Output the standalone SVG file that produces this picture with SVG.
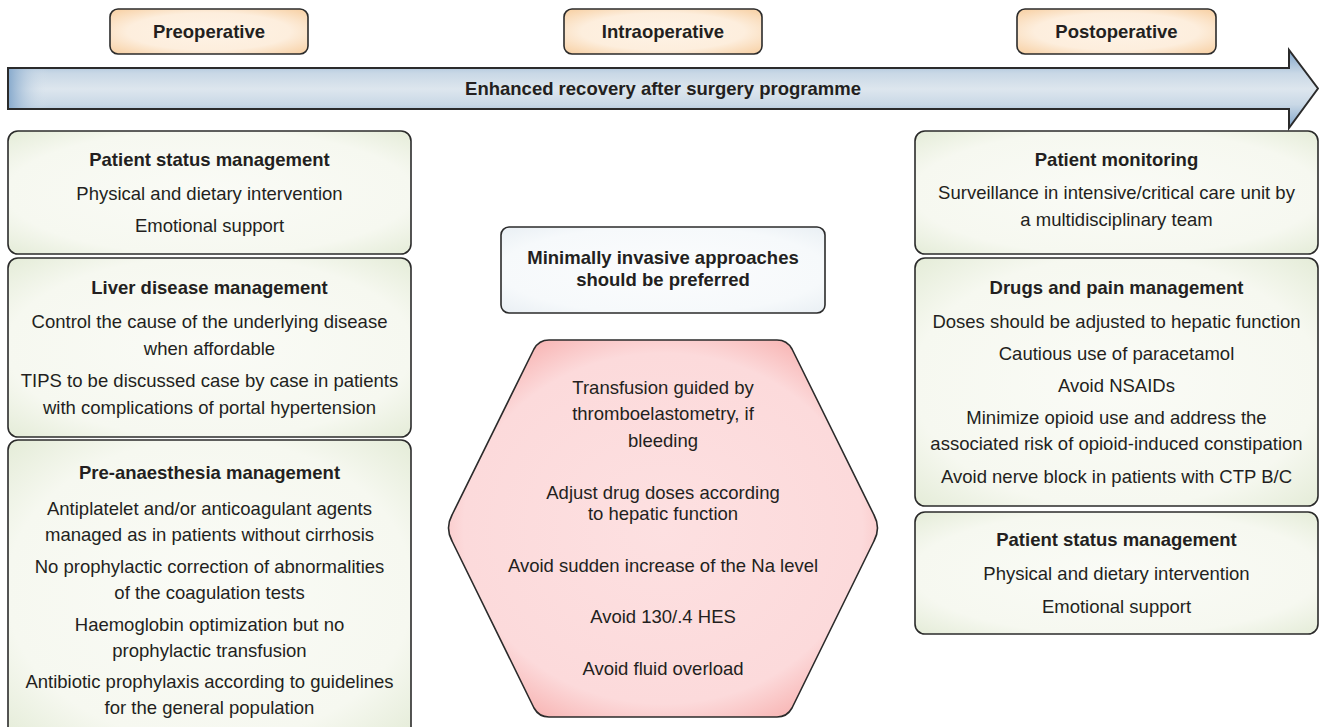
<svg xmlns="http://www.w3.org/2000/svg" width="1319" height="727" viewBox="0 0 1319 727">
<defs>
<radialGradient id="gPeach" cx="0.5" cy="0.5" r="0.75">
<stop offset="0" stop-color="#fef3e6"/><stop offset="0.55" stop-color="#fdeedd"/><stop offset="1" stop-color="#f6c996"/>
</radialGradient>
<linearGradient id="gBlue" x1="0" y1="0" x2="0" y2="1">
<stop offset="0" stop-color="#7fa4c9"/><stop offset="0.3" stop-color="#c9d8e6"/><stop offset="0.5" stop-color="#dde6ee"/><stop offset="0.7" stop-color="#c9d8e6"/><stop offset="1" stop-color="#7fa4c9"/>
</linearGradient>
<linearGradient id="gBlueLeft" x1="0" y1="0" x2="1" y2="0">
<stop offset="0" stop-color="#86a9cc" stop-opacity="1"/><stop offset="1" stop-color="#dde6ee" stop-opacity="0"/>
</linearGradient>
<radialGradient id="gGreen" cx="0.5" cy="0.5" r="0.72">
<stop offset="0" stop-color="#fafbf6"/><stop offset="0.7" stop-color="#f6f8f0"/><stop offset="1" stop-color="#e3ebd6"/>
</radialGradient>
<radialGradient id="gWhite" cx="0.5" cy="0.5" r="0.72">
<stop offset="0" stop-color="#fbfcfd"/><stop offset="0.7" stop-color="#f6f9fb"/><stop offset="1" stop-color="#e8eef3"/>
</radialGradient>
<radialGradient id="gPink" cx="0.5" cy="0.5" r="0.62">
<stop offset="0" stop-color="#fde0e1"/><stop offset="0.75" stop-color="#fcdadb"/><stop offset="1" stop-color="#f6a8a6"/>
</radialGradient>
<style>
.b{stroke:#2b2b2b;stroke-width:1.6}
text{font-family:"Liberation Sans",Arial,sans-serif;font-size:18.5px;fill:#231f20;text-anchor:middle}
.h{font-weight:bold}
</style>
</defs>

<g id="arrow">
<path d="M8,68 H1289 V50 L1318,88.5 L1289,128 V109 H8 Z" fill="url(#gBlue)"/>
<rect x="8" y="68" width="40" height="41" fill="url(#gBlueLeft)"/>
<path d="M8,68 H1289 V50 L1318,88.5 L1289,128 V109 H8 Z" fill="none" stroke="#2b2b2b" stroke-width="2"/>
<text class="h" x="663" y="94.5">Enhanced recovery after surgery programme</text>
</g>

<g id="preoperative">
<rect class="b" x="110" y="9" width="198" height="45" rx="8" fill="url(#gPeach)"/>
<text class="h" x="209" y="37.5">Preoperative</text>
</g>
<g id="intraoperative">
<rect class="b" x="564" y="9" width="198" height="45" rx="8" fill="url(#gPeach)"/>
<text class="h" x="663" y="37.5">Intraoperative</text>
</g>
<g id="postoperative">
<rect class="b" x="1017" y="9" width="199" height="45" rx="8" fill="url(#gPeach)"/>
<text class="h" x="1116.5" y="37.5">Postoperative</text>
</g>

<g id="pre-patient-status">
<rect class="b" x="8" y="131" width="403" height="123" rx="10" fill="url(#gGreen)"/>
<text class="h" x="209.5" y="166">Patient status management</text>
<text x="209.5" y="200">Physical and dietary intervention</text>
<text x="209.5" y="232">Emotional support</text>
</g>
<g id="pre-liver-disease">
<rect class="b" x="8" y="258" width="403" height="179" rx="10" fill="url(#gGreen)"/>
<text class="h" x="209.5" y="294">Liver disease management</text>
<text x="209.5" y="327.5">Control the cause of the underlying disease</text>
<text x="209.5" y="354.5">when affordable</text>
<text x="209.5" y="386.5">TIPS to be discussed case by case in patients</text>
<text x="209.5" y="413.5">with complications of portal hypertension</text>
</g>
<g id="pre-anaesthesia">
<rect class="b" x="8" y="440" width="403" height="300" rx="10" fill="url(#gGreen)"/>
<text class="h" x="209.5" y="479">Pre-anaesthesia management</text>
<text x="209.5" y="515">Antiplatelet and/or anticoagulant agents</text>
<text x="209.5" y="541">managed as in patients without cirrhosis</text>
<text x="209.5" y="573">No prophylactic correction of abnormalities</text>
<text x="209.5" y="599">of the coagulation tests</text>
<text x="209.5" y="631">Haemoglobin optimization but no</text>
<text x="209.5" y="657">prophylactic transfusion</text>
<text x="209.5" y="688">Antibiotic prophylaxis according to guidelines</text>
<text x="209.5" y="714">for the general population</text>
</g>

<g id="intra-minimally-invasive">
<rect class="b" x="501" y="227" width="324" height="86" rx="8" fill="url(#gWhite)"/>
<text class="h" x="663" y="263.5">Minimally invasive approaches</text>
<text class="h" x="663" y="285.5">should be preferred</text>
</g>
<g id="intra-measures">
<path class="b" fill="url(#gPink)" d="M549,340 H777 Q787,340 792,349 L874,515 Q881,528 874,541 L792,708 Q787,717 777,717 H549 Q539,717 534,708 L452,541 Q445,528 452,515 L534,349 Q539,340 549,340 Z"/>
<text x="663" y="393.5">Transfusion guided by</text>
<text x="663" y="420">thromboelastometry, if</text>
<text x="663" y="446.5">bleeding</text>
<text x="663" y="498.5">Adjust drug doses according</text>
<text x="663" y="520">to hepatic function</text>
<text x="663" y="571.5">Avoid sudden increase of the Na level</text>
<text x="663" y="622.5">Avoid 130/.4 HES</text>
<text x="663" y="675">Avoid fluid overload</text>
</g>

<g id="post-monitoring">
<rect class="b" x="915" y="131" width="403" height="123" rx="10" fill="url(#gGreen)"/>
<text class="h" x="1116.5" y="166">Patient monitoring</text>
<text x="1116.5" y="199">Surveillance in intensive/critical care unit by</text>
<text x="1116.5" y="226">a multidisciplinary team</text>
</g>
<g id="post-drugs-pain">
<rect class="b" x="915" y="258" width="403" height="248" rx="10" fill="url(#gGreen)"/>
<text class="h" x="1116.5" y="294">Drugs and pain management</text>
<text x="1116.5" y="327.5">Doses should be adjusted to hepatic function</text>
<text x="1116.5" y="359.5">Cautious use of paracetamol</text>
<text x="1116.5" y="391.5">Avoid NSAIDs</text>
<text x="1116.5" y="423.5">Minimize opioid use and address the</text>
<text x="1116.5" y="450">associated risk of opioid-induced constipation</text>
<text x="1116.5" y="482.5">Avoid nerve block in patients with CTP B/C</text>
</g>
<g id="post-patient-status">
<rect class="b" x="915" y="512" width="403" height="122" rx="10" fill="url(#gGreen)"/>
<text class="h" x="1116.5" y="546">Patient status management</text>
<text x="1116.5" y="580">Physical and dietary intervention</text>
<text x="1116.5" y="612.5">Emotional support</text>
</g>
<g id="connectors"></g>
</svg>
